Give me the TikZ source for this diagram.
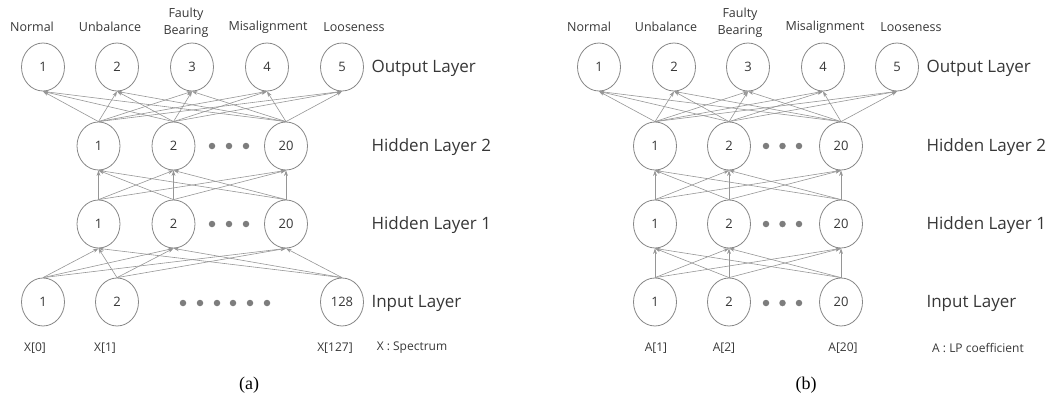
\documentclass[tikz,border=0pt]{standalone}
\usepackage{fontspec}
\setmainfont{Open Sans}
\newfontfamily\capfont{Liberation Serif}
\usetikzlibrary{shapes.geometric,arrows.meta}

\definecolor{wire}{RGB}{150,150,150}
\definecolor{ring}{RGB}{135,135,135}
\definecolor{ink}{RGB}{55,55,55}
\definecolor{dotc}{RGB}{125,125,125}

\begin{document}
\begin{tikzpicture}[x=1pt,y=-1pt,
  neuron/.style={ellipse, draw=ring, line width=0.8pt, minimum width=43pt,
    minimum height=48pt, inner sep=0pt, text=ink,
    font=\fontsize{13}{15}\selectfont},
  link/.style={draw=wire, line width=0.6pt, -{Stealth[length=5.5pt,width=3.8pt]}},
  classlbl/.style={text=ink, font=\fontsize{12.5}{17}\selectfont, align=center},
  layerlbl/.style={text=ink, anchor=west, font=\fontsize{17}{20}\selectfont},
  featlbl/.style={text=ink, font=\fontsize{12}{14}\selectfont},
  caplbl/.style={text=black, font=\capfont\fontsize{18}{21}\selectfont},
  dot/.style={circle, fill=dotc, minimum size=6.5pt, inner sep=0pt}
]
\useasboundingbox (0,0) rectangle (1051,402);

% ---------------- (a) spectrum input network ----------------
\foreach \x [count=\i] in {43,117,192,267,342}
  \node[neuron] (ao\i) at (\x,67) {\i};
\foreach \x/\t [count=\i] in {98.5/1,173.5/2,286/20} {
  \node[neuron] (ah2\i) at (\x,146) {\t};
  \node[neuron] (ah1\i) at (\x,224) {\t};
}
\foreach \x/\t [count=\i] in {43/1,117/2,342/128}
  \node[neuron] (ai\i) at (\x,302) {\t};

\foreach \x [count=\i] in {212,229,246} {
  \node[dot] (ad2\i) at (\x,146) {};
  \node[dot] (ad1\i) at (\x,224) {};
}
\foreach \x [count=\i] in {183,200,217,233,250,267}
  \node[dot] (adi\i) at (\x,303) {};

\foreach \s in {1,2,3} {
  \foreach \t in {1,...,5}
    \draw[link] (ah2\s.north) -- (ao\t.south);
  \foreach \t in {1,2,3} {
    \draw[link] (ah1\s.north) -- (ah2\t.south);
    \draw[link] (ai\s.north) -- (ah1\t.south);
  }
}

\node[classlbl] (ac1) at (32,27) {Normal};
\node[classlbl] (ac2) at (110,27) {Unbalance};
\node[classlbl] (ac3) at (186,23) {Faulty\\Bearing};
\node[classlbl] (ac4) at (268,27) {Misalignment};
\node[classlbl] (ac5) at (354,27) {Looseness};

\node[layerlbl] (alo) at (368,68) {Output Layer};
\node[layerlbl] (al2) at (368,147) {Hidden Layer 2};
\node[layerlbl] (al1) at (368,225) {Hidden Layer 1};
\node[layerlbl] (ali) at (368,303) {Input Layer};

\node[featlbl] (af1) at (35,348) {X[0]};
\node[featlbl] (af2) at (105,348) {X[1]};
\node[featlbl] (af3) at (335,348) {X[127]};
\node[featlbl] (afk) at (412,348) {X : Spectrum};

\node[caplbl] (acap) at (249,385) {(a)};

% ---------------- (b) LP coefficient input network ----------------
\foreach \x [count=\i] in {599,674,748,823,897}
  \node[neuron] (bo\i) at (\x,67) {\i};
\foreach \x/\t [count=\i] in {655/1,729/2,841/20} {
  \node[neuron] (bh2\i) at (\x,146) {\t};
  \node[neuron] (bh1\i) at (\x,224) {\t};
  \node[neuron] (bi\i) at (\x,302) {\t};
}
\foreach \x [count=\i] in {766,782.5,799} {
  \node[dot] (bd2\i) at (\x,146) {};
  \node[dot] (bd1\i) at (\x,224) {};
  \node[dot] (bdi\i) at (\x,303) {};
}

\foreach \s in {1,2,3} {
  \foreach \t in {1,...,5}
    \draw[link] (bh2\s.north) -- (bo\t.south);
  \foreach \t in {1,2,3} {
    \draw[link] (bh1\s.north) -- (bh2\t.south);
    \draw[link] (bi\s.north) -- (bh1\t.south);
  }
}

\node[classlbl] (bc1) at (589,27) {Normal};
\node[classlbl] (bc2) at (666,27) {Unbalance};
\node[classlbl] (bc3) at (740,23) {Faulty\\Bearing};
\node[classlbl] (bc4) at (825,27) {Misalignment};
\node[classlbl] (bc5) at (911,27) {Looseness};

\node[layerlbl] (blo) at (923,68) {Output Layer};
\node[layerlbl] (bl2) at (923,147) {Hidden Layer 2};
\node[layerlbl] (bl1) at (923,225) {Hidden Layer 1};
\node[layerlbl] (bli) at (923,303) {Input Layer};

\node[featlbl] (bf1) at (656,348) {A[1]};
\node[featlbl] (bf2) at (724,348) {A[2]};
\node[featlbl] (bf3) at (843,348) {A[20]};
\node[featlbl] (bfk) at (978,348) {A : LP coefficient};

\node[caplbl] (bcap) at (806,385) {(b)};
\end{tikzpicture}
\end{document}
